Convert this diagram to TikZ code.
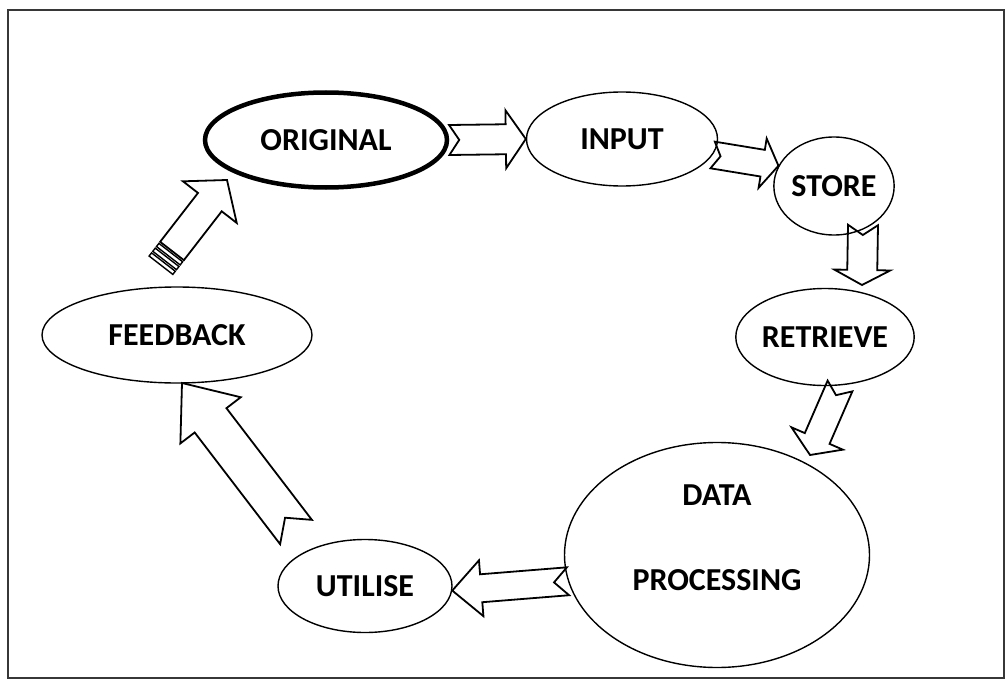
\documentclass[tikz,border=0pt]{standalone}
\usepackage{fontspec}
\setmainfont{Carlito}
\usepackage{tikz}
\usetikzlibrary{calc,shapes.geometric}

\definecolor{framegray}{RGB}{55,55,55}
\tikzset{
  stage/.style={draw,ellipse,line width=1.4pt,inner sep=0pt,align=center,
    font=\fontsize{32}{38}\selectfont\bfseries},
  lbl/.style={inner sep=0pt,align=center,font=\fontsize{32}{38}\selectfont\bfseries},
  blockarr/.style={draw,line width=1.8pt,line join=miter},
}
% tail, tip, shaft half width, head half width, head length, notch depth
\newcommand{\blockarrow}[6]{%
  \draw[blockarr] ($(#1)!#3!90:(#2)$)
    -- ($(#2)!#5!(#1)!#3!-90:(#1)$) -- ($(#2)!#5!(#1)!#4!-90:(#1)$)
    -- (#2)
    -- ($(#2)!#5!(#1)!#4!90:(#1)$) -- ($(#2)!#5!(#1)!#3!90:(#1)$)
    -- ($(#1)!#3!-90:(#2)$) -- ($(#1)!#6!(#2)$) -- cycle;}

\begin{document}
\begin{tikzpicture}[x=1pt,y=-1pt]
  \useasboundingbox (0,0) rectangle (1006,682);
  \draw[framegray,line width=2pt] (8,10) rectangle (1004,678);

  \node[stage,line width=4.5pt,minimum width=242pt,minimum height=95pt] (original) at (326,140) {ORIGINAL};
  \node[stage,minimum width=191pt,minimum height=94pt] (input) at (622,139) {INPUT};
  \node[stage,minimum width=118pt,minimum height=98pt] (store) at (834,186) {STORE};
  \node[stage,minimum width=140pt,minimum height=97pt] (retrieve) at (825,337) {RETRIEVE};
  \node[stage,minimum width=305pt,minimum height=225pt,
    label={[lbl,yshift=17pt]center:DATA\\[47pt]PROCESSING}] (data) at (717,555) {};
  \node[stage,minimum width=174pt,minimum height=93pt] (utilise) at (365,586) {UTILISE};
  \node[stage,minimum width=270pt,minimum height=96pt] (feedback) at (177,335) {FEEDBACK};

  \coordinate (sr1) at (863,225);
  \coordinate (sr2) at (862,285);
  \coordinate (rd1) at (840,386);
  \coordinate (rd2) at (810,455);
  \coordinate (uf1) at (296,532);
  \coordinate (uf2) at (182,383);
  \coordinate (fo1) at (172,251);
  \coordinate (fo2) at (227,180);

  \blockarrow{original.east}{input.west}{15pt}{29pt}{20pt}{10pt}
  \blockarrow{input.-10}{store.160}{13.5pt}{25pt}{16pt}{8pt}
  \blockarrow{sr1}{sr2}{15pt}{28pt}{15pt}{10pt}
  \blockarrow{rd1}{rd2}{13.5pt}{28pt}{18pt}{10pt}
  \blockarrow{data.190}{utilise.-3}{14pt}{28pt}{29pt}{14pt}
  \blockarrow{uf1}{uf2}{20pt}{38pt}{47pt}{18pt}
  \blockarrow{fo1}{fo2}{15pt}{34pt}{28pt}{0pt}
  \foreach \d in {2,8,14}
    \draw[blockarr,line width=1.4pt]
      ($(fo1)!{-\d*1pt}!(fo2)!15pt!90:(fo2)$) -- ($(fo1)!{-\d*1pt}!(fo2)!15pt!-90:(fo2)$)
      -- ($(fo1)!{-\d*1pt-4pt}!(fo2)!15pt!-90:(fo2)$) -- ($(fo1)!{-\d*1pt-4pt}!(fo2)!15pt!90:(fo2)$) -- cycle;
\end{tikzpicture}
\end{document}
